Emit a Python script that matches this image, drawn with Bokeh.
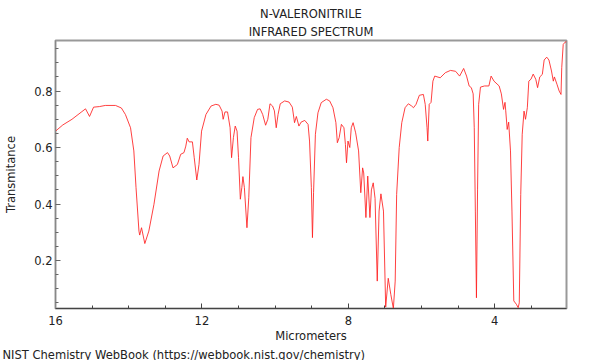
from bokeh.plotting import figure
from bokeh.models import Range1d, FixedTicker, Title
from bokeh.embed import file_html
from bokeh.resources import INLINE

wavelength_um = [
    16.00, 15.80, 15.55, 15.30, 15.18, 15.07, 14.96, 14.80, 14.64, 14.36, 14.20, 14.09,
    13.95, 13.86, 13.80, 13.72, 13.70, 13.65, 13.56, 13.45, 13.31, 13.17, 13.06, 12.94,
    12.88, 12.79, 12.67, 12.58, 12.49, 12.44, 12.40, 12.35, 12.26, 12.21, 12.14, 12.08,
    12.01, 11.89, 11.75, 11.62, 11.53, 11.45, 11.42, 11.37, 11.30, 11.23, 11.19, 11.14,
    11.09, 11.04, 11.00, 10.95, 10.91, 10.88, 10.84, 10.77, 10.72, 10.66, 10.57, 10.48,
    10.41, 10.34, 10.26, 10.20, 10.14, 10.07, 10.02, 9.97, 9.92, 9.86, 9.74, 9.62,
    9.53, 9.47, 9.42, 9.35, 9.29, 9.19, 9.10, 9.06, 9.01, 8.98, 8.95, 8.90,
    8.83, 8.74, 8.60, 8.51, 8.42, 8.34, 8.30, 8.25, 8.19, 8.12, 8.08, 8.05,
    8.01, 7.96, 7.92, 7.87, 7.80, 7.72, 7.66, 7.61, 7.58, 7.52, 7.47, 7.41,
    7.37, 7.32, 7.27, 7.21, 7.16, 7.11, 7.04, 6.98, 6.91, 6.84, 6.77, 6.72,
    6.68, 6.61, 6.54, 6.45, 6.36, 6.27, 6.22, 6.15, 6.06, 5.95, 5.90, 5.85,
    5.83, 5.79, 5.74, 5.69, 5.64, 5.49, 5.35, 5.21, 5.07, 4.96, 4.85, 4.77,
    4.70, 4.64, 4.59, 4.56, 4.53, 4.50, 4.47, 4.44, 4.39, 4.28, 4.16, 4.10,
    4.02, 3.88, 3.82, 3.76, 3.72, 3.70, 3.66, 3.62, 3.57, 3.53, 3.48, 3.41,
    3.36, 3.33, 3.29, 3.25, 3.20, 3.16, 3.11, 3.07, 3.01, 2.95, 2.88, 2.83,
    2.77, 2.70, 2.65, 2.58, 2.52, 2.45, 2.40, 2.37, 2.30, 2.24, 2.19, 2.17,
    2.13, 2.08, 2.04,
]
transmittance = [
    0.658, 0.680, 0.700, 0.725, 0.737, 0.710, 0.743, 0.745, 0.749, 0.749, 0.740, 0.717,
    0.670, 0.588, 0.458, 0.304, 0.290, 0.316, 0.260, 0.304, 0.399, 0.517, 0.570, 0.582,
    0.570, 0.528, 0.540, 0.576, 0.582, 0.605, 0.633, 0.620, 0.620, 0.564, 0.485, 0.540,
    0.658, 0.717, 0.747, 0.753, 0.750, 0.729, 0.700, 0.726, 0.726, 0.670, 0.564, 0.635,
    0.676, 0.658, 0.564, 0.417, 0.458, 0.497, 0.458, 0.316, 0.422, 0.635, 0.706, 0.735,
    0.737, 0.717, 0.679, 0.700, 0.755, 0.747, 0.730, 0.670, 0.717, 0.755, 0.765, 0.761,
    0.743, 0.688, 0.710, 0.676, 0.690, 0.696, 0.682, 0.623, 0.458, 0.281, 0.440, 0.647,
    0.723, 0.759, 0.771, 0.765, 0.741, 0.688, 0.617, 0.635, 0.682, 0.670, 0.611, 0.546,
    0.623, 0.600, 0.670, 0.688, 0.652, 0.588, 0.440, 0.528, 0.510, 0.352, 0.499, 0.352,
    0.450, 0.475, 0.420, 0.127, 0.375, 0.436, 0.375, 0.035, 0.137, 0.080, 0.030, 0.127,
    0.434, 0.600, 0.688, 0.741, 0.755, 0.747, 0.741, 0.753, 0.785, 0.788, 0.753, 0.670,
    0.623, 0.753, 0.760, 0.835, 0.853, 0.847, 0.865, 0.873, 0.870, 0.853, 0.880, 0.853,
    0.818, 0.812, 0.790, 0.670, 0.375, 0.068, 0.450, 0.753, 0.814, 0.818, 0.818, 0.853,
    0.835, 0.818, 0.790, 0.735, 0.760, 0.730, 0.664, 0.690, 0.588, 0.375, 0.057, 0.045,
    0.033, 0.050, 0.434, 0.647, 0.729, 0.700, 0.741, 0.835, 0.842, 0.860, 0.842, 0.812,
    0.850, 0.859, 0.910, 0.920, 0.910, 0.871, 0.835, 0.850, 0.824, 0.800, 0.788, 0.883,
    0.965, 0.973, 0.975,
]
x_major_ticks = [16, 12, 8, 4]
x_minor_ticks = [3, 5, 6, 7, 9, 10, 11, 13, 14, 15]
y_major_ticks = [0.2, 0.4, 0.6, 0.8]
y_minor_ticks = [0.05, 0.1, 0.15, 0.25, 0.3, 0.35, 0.45, 0.5, 0.55, 0.65, 0.7, 0.75, 0.85, 0.9, 0.95]

FONT = "DejaVu Sans Condensed"
FSIZE = "12.8px"

p = figure(width=600, height=360, output_backend="svg", toolbar_location=None,
           x_range=Range1d(16, 2.04), y_range=Range1d(0.03, 0.979),
           min_border_left=53, min_border_right=34, min_border_top=40, min_border_bottom=0)

p.line(wavelength_um, transmittance, line_color="#ff2020", line_width=1, line_alpha=0.85)

p.grid.visible = False
p.background_fill_color = "white"
p.border_fill_color = "white"
p.outline_line_color = "#999999"
p.outline_line_width = 2

for ax, maj, mnr in ((p.xaxis[0], x_major_ticks, x_minor_ticks), (p.yaxis[0], y_major_ticks, y_minor_ticks)):
    ax.ticker = FixedTicker(ticks=maj, minor_ticks=mnr)
    ax.major_tick_in = 5
    ax.major_tick_out = 0
    ax.minor_tick_in = 3
    ax.minor_tick_out = 0
    ax.major_label_text_font = FONT
    ax.major_label_text_font_size = FSIZE
    ax.major_label_text_color = "#222222"
    ax.axis_label_text_font = FONT
    ax.axis_label_text_font_size = FSIZE
    ax.axis_label_text_font_style = "normal"
    ax.axis_label_text_color = "#222222"

p.xaxis.axis_label = "Micrometers"
p.yaxis.axis_label = "Transmitance"
p.xaxis.axis_line_color = "#444444"
p.xaxis.major_tick_line_color = "#444444"
p.xaxis.minor_tick_line_color = "#444444"
p.yaxis.axis_line_color = "#888888"
p.yaxis.major_tick_line_color = "#666666"
p.yaxis.minor_tick_line_color = "#666666"
p.xaxis.major_label_standoff = 7
p.xaxis.axis_label_standoff = 0
p.yaxis.major_label_standoff = 3
p.yaxis.axis_label_standoff = 13

t2 = Title(text="INFRARED SPECTRUM", align="center", text_font=FONT, text_font_size=FSIZE,
           text_font_style="normal", text_color="#222222", standoff=4)
t1 = Title(text="N-VALERONITRILE", align="center", text_font=FONT, text_font_size=FSIZE,
           text_font_style="normal", text_color="#222222", standoff=-2)
p.add_layout(t2, "above")
p.add_layout(t1, "above")

foot = Title(text="NIST Chemistry WebBook (https://webbook.nist.gov/chemistry)", align="left",
             text_font=FONT, text_font_size=FSIZE, text_font_style="normal",
             text_color="#222222", offset=-53, standoff=-2)
p.add_layout(foot, "below")

open("out.html", "w").write(file_html(p, INLINE))
